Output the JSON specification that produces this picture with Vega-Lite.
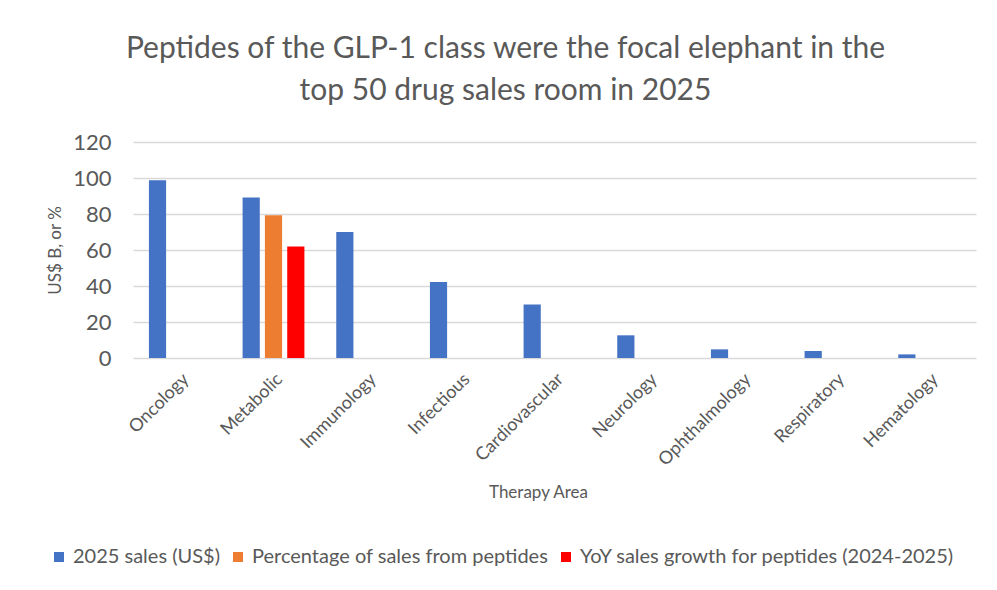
{
  "$schema": "https://vega.github.io/schema/vega-lite/v6.json",
  "autosize": "none",
  "width": 843,
  "height": 216,
  "padding": {"left": 133, "top": 142, "right": 21, "bottom": 232},
  "background": "white",
  "config": {
    "font": "Lato",
    "view": {"stroke": null}
  },
  "title": {
    "text": ["Peptides of the GLP-1 class were the focal elephant in the", "top 50 drug sales room in 2025"],
    "fontSize": 30,
    "fontWeight": "normal",
    "color": "#595959",
    "anchor": "middle",
    "dx": -49,
    "offset": 25,
    "lineHeight": 42
  },
  "data": {
    "values": [
      {"area": "Oncology", "series": "2025 sales (US$)", "value": 98.7},
      {"area": "Metabolic", "series": "2025 sales (US$)", "value": 89.1},
      {"area": "Metabolic", "series": "Percentage of sales from peptides", "value": 79.3},
      {"area": "Metabolic", "series": "YoY sales growth for peptides (2024-2025)", "value": 61.9},
      {"area": "Immunology", "series": "2025 sales (US$)", "value": 70.0},
      {"area": "Infectious", "series": "2025 sales (US$)", "value": 42.2},
      {"area": "Cardiovascular", "series": "2025 sales (US$)", "value": 29.7},
      {"area": "Neurology", "series": "2025 sales (US$)", "value": 12.6},
      {"area": "Ophthalmology", "series": "2025 sales (US$)", "value": 4.8},
      {"area": "Respiratory", "series": "2025 sales (US$)", "value": 3.9},
      {"area": "Hematology", "series": "2025 sales (US$)", "value": 2.0}
    ]
  },
  "mark": {"type": "bar"},
  "encoding": {
    "x": {
      "field": "area",
      "type": "nominal",
      "sort": null,
      "scale": {"paddingInner": 0.34, "paddingOuter": 0.17},
      "axis": {
        "title": "Therapy Area",
        "titleFontSize": 17,
        "titleFontWeight": "normal",
        "titleColor": "#595959",
        "titleX": 405,
        "titleY": 134,
        "titleBaseline": "middle",
        "labelAngle": -45,
        "labelFontSize": 18,
        "labelColor": "#595959",
        "labelPadding": 12,
        "domain": false,
        "ticks": false,
        "grid": false
      }
    },
    "xOffset": {
      "field": "series",
      "type": "nominal",
      "scale": {
        "domain": ["2025 sales (US$)", "Percentage of sales from peptides", "YoY sales growth for peptides (2024-2025)"],
        "paddingInner": 0.23,
        "paddingOuter": 0
      }
    },
    "y": {
      "field": "value",
      "type": "quantitative",
      "scale": {"domain": [0, 120], "nice": false},
      "axis": {
        "title": "US$ B, or %",
        "titleFontSize": 17,
        "titleFontWeight": "normal",
        "titleColor": "#595959",
        "titleX": -78,
        "titleY": 108,
        "titleAngle": -90,
        "titleAlign": "center",
        "titleBaseline": "middle",
        "values": [0, 20, 40, 60, 80, 100, 120],
        "labelFontSize": 22,
        "labelColor": "#595959",
        "labelPadding": 22,
        "domain": false,
        "ticks": false,
        "gridColor": "#d9d9d9",
        "gridWidth": 1.5
      }
    },
    "color": {
      "field": "series",
      "type": "nominal",
      "scale": {
        "domain": ["2025 sales (US$)", "Percentage of sales from peptides", "YoY sales growth for peptides (2024-2025)"],
        "range": ["#4472C4", "#ED7D31", "#FF0000"]
      },
      "legend": {
        "title": null,
        "orient": "none",
        "direction": "horizontal",
        "legendX": -84,
        "legendY": 405,
        "symbolType": "square",
        "symbolSize": 100,
        "symbolStrokeWidth": 0,
        "labelFontSize": 20,
        "labelColor": "#595959",
        "labelOffset": 4,
        "columnPadding": 7,
        "labelLimit": 500
      }
    }
  }
}
